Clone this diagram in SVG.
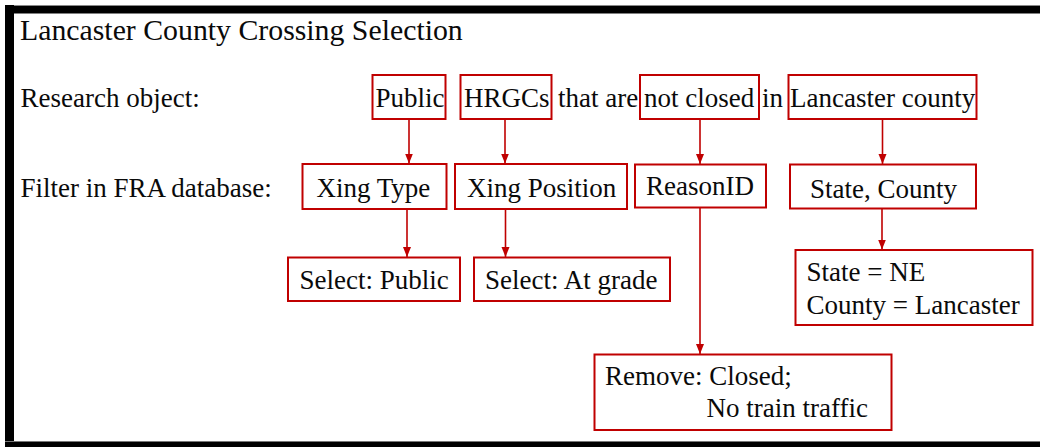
<svg xmlns="http://www.w3.org/2000/svg" width="1040" height="447" viewBox="0 0 1040 447">
<style>
text{font-family:"Liberation Serif","Times New Roman",serif;font-size:27px;fill:#0a0a0a}
.t{font-size:29.8px}
.b{fill:#fff;stroke:#c00000;stroke-width:2}
.c{stroke:#c00000;stroke-width:1.6;fill:none}
</style>
<defs>
<marker id="ah" markerUnits="userSpaceOnUse" markerWidth="10" markerHeight="10" viewBox="0 0 10 10" refX="10" refY="5" orient="auto">
<path d="M0,1 L10,5 L0,9 Z" fill="#c00000"/>
</marker>
</defs>
<rect x="0" y="0" width="1040" height="447" fill="#fff"/>
<g id="frame">
<rect x="5" y="5" width="1035" height="1" fill="#888"/>
<rect x="5" y="6" width="1035" height="7.5" fill="#000"/>
<rect x="5" y="5" width="9" height="442" fill="#000"/>
<rect x="5" y="441" width="1035" height="1" fill="#777"/>
<rect x="5" y="442" width="1035" height="5" fill="#000"/>
</g>
<g id="title"><text class="t" x="20" y="40">Lancaster County Crossing Selection</text></g>
<g id="labels">
<text x="20.5" y="107">Research object:</text>
<text x="20.5" y="197">Filter in FRA database:</text>
<text x="558" y="107">that are</text>
<text x="762" y="107">in</text>
</g>
<g id="connectors">
<line class="c" x1="409" y1="119" x2="409" y2="163.5" marker-end="url(#ah)"/>
<line class="c" x1="505" y1="119" x2="505" y2="163.5" marker-end="url(#ah)"/>
<line class="c" x1="700" y1="119" x2="700" y2="164" marker-end="url(#ah)"/>
<line class="c" x1="882.5" y1="119" x2="882.5" y2="164" marker-end="url(#ah)"/>
<line class="c" x1="407" y1="209" x2="407" y2="257" marker-end="url(#ah)"/>
<line class="c" x1="505.5" y1="209" x2="505.5" y2="257" marker-end="url(#ah)"/>
<line class="c" x1="700" y1="207.5" x2="700" y2="354" marker-end="url(#ah)"/>
<line class="c" x1="882" y1="208.5" x2="882" y2="249.5" marker-end="url(#ah)"/>
</g>
<g id="public"><rect class="b" x="372.5" y="75" width="73" height="44"/><text x="375.5" y="107">Public</text></g>
<g id="hrgcs"><rect class="b" x="460.5" y="75" width="91" height="44"/><text x="464" y="107">HRGCs</text></g>
<g id="notclosed"><rect class="b" x="640" y="75" width="119" height="44"/><text x="644" y="107">not closed</text></g>
<g id="lancaster"><rect class="b" x="788.5" y="75" width="188" height="44"/><text x="790" y="107">Lancaster county</text></g>
<g id="xingtype"><rect class="b" x="302.5" y="164" width="144" height="45"/><text x="316.5" y="197">Xing Type</text></g>
<g id="xingpos"><rect class="b" x="455" y="164" width="172" height="45"/><text x="467" y="197">Xing Position</text></g>
<g id="reasonid"><rect class="b" x="635" y="164.5" width="131" height="43"/><text x="646" y="195">ReasonID</text></g>
<g id="statecounty"><rect class="b" x="790" y="164.5" width="186" height="44"/><text x="810" y="198">State, County</text></g>
<g id="selpublic"><rect class="b" x="288" y="257.5" width="172" height="43.5"/><text x="299.5" y="288.5">Select: Public</text></g>
<g id="selgrade"><rect class="b" x="474" y="257.5" width="196" height="43.5"/><text x="485" y="288.5">Select: At grade</text></g>
<g id="statene"><rect class="b" x="795.5" y="250" width="237" height="75"/><text x="806.5" y="281">State = NE</text><text x="806.5" y="313.5">County = Lancaster</text></g>
<g id="remove"><rect class="b" x="594.5" y="354.5" width="297" height="75.5"/><text x="605" y="385">Remove: Closed;</text><text x="706.5" y="417">No train traffic</text></g>
</svg>
